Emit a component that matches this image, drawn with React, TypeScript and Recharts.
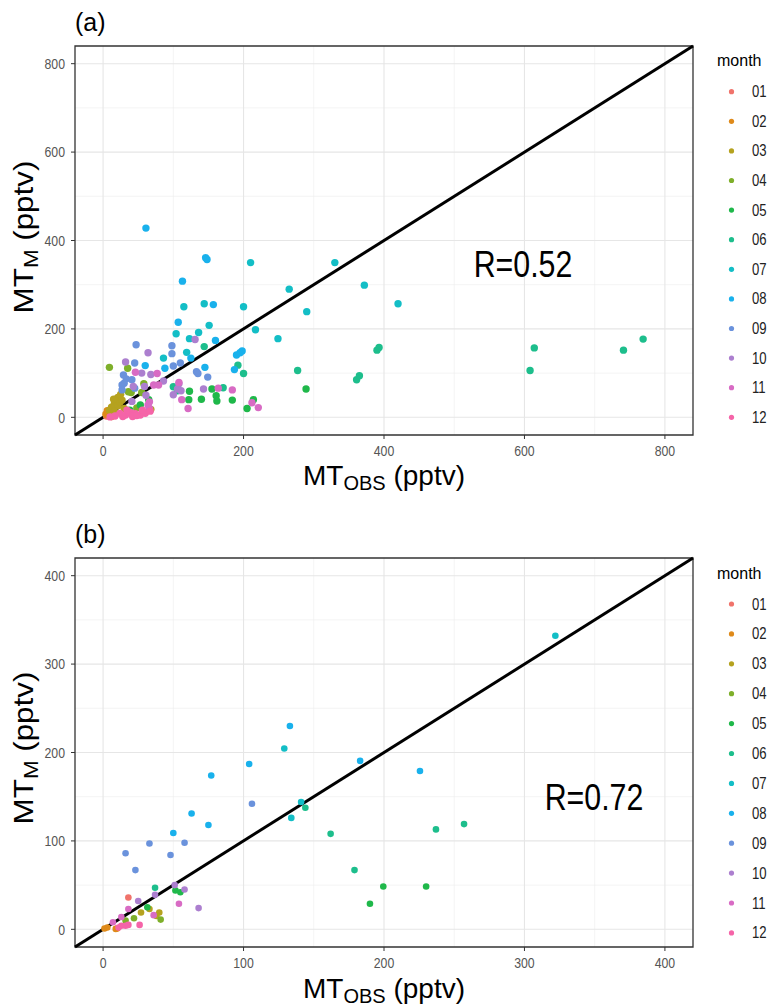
import React from 'react';
import {
  ScatterChart, Scatter, XAxis, YAxis, CartesianGrid, ReferenceLine, ReferenceArea,
} from 'recharts';

// month labels and ggplot-like hue colours
const months = ['01', '02', '03', '04', '05', '06', '07', '08', '09', '10', '11', '12'];
const monthColors = [
  '#F0736B', '#DF8A1A', '#B5A21F', '#7EAF2A', '#1FB84A', '#1DBE8C',
  '#13BEC6', '#19B1EC', '#6A92DC', '#AC7FCF', '#D86BC4', '#F564A8',
];

// panel (a): [MT_OBS, MT_M] per month
const a01 = [[5, 3], [10, 8], [14, 5]];
const a02 = [[6, 15], [4, 7], [12, 2]];
const a03 = [[25, 52], [21, 45], [18, 38], [16, 30], [12, 23], [21, 26], [24, 34], [9, 16], [16, 14], [27, 39], [15, 41], [68, 18], [30, 20]];
const a04 = [[9, 113], [35, 111], [36, 58], [58, 76], [55, 56], [40, 56], [48, 21]];
const a05 = [[38, 16], [53, 28], [65, 40], [123, 59], [155, 64], [161, 49], [162, 37], [184, 39], [140, 41], [122, 40], [205, 20], [214, 40], [289, 64]];
const a06 = [[144, 160], [192, 118], [200, 99], [277, 106], [100, 69], [171, 67], [106, 60], [390, 152], [393, 158], [361, 85], [365, 94], [614, 157], [608, 106], [741, 152], [769, 177]];
const a07 = [[210, 350], [330, 350], [265, 290], [372, 299], [144, 257], [115, 250], [200, 250], [290, 239], [420, 257], [151, 208], [217, 198], [104, 189], [123, 178], [136, 192], [249, 178], [119, 147], [86, 134]];
const a08 = [[61, 428], [146, 361], [148, 357], [113, 308], [157, 255], [107, 215], [160, 174], [125, 134], [198, 150], [195, 146], [190, 141], [60, 117], [88, 111], [187, 108], [145, 113]];
const a09 = [[47, 164], [98, 162], [98, 144], [45, 123], [110, 123], [100, 116], [133, 103], [135, 99], [149, 91], [29, 96], [33, 87], [27, 73], [30, 77], [41, 85], [27, 62], [45, 66]];
const a10 = [[131, 176], [64, 146], [32, 125], [55, 100], [68, 97], [43, 70], [59, 70], [86, 82], [108, 76], [106, 64], [111, 60], [143, 64], [100, 51], [61, 50], [41, 36]];
const a11 = [[46, 102], [77, 99], [79, 73], [108, 79], [164, 66], [184, 62], [112, 40], [121, 20], [212, 33], [221, 22], [66, 35], [64, 28], [66, 20], [72, 73]];
const a12 = [[24, 9], [32, 5], [39, 11], [46, 8], [53, 5], [60, 9], [67, 14], [17, 3], [42, 2], [56, 16], [34, 16], [28, 2], [48, 4], [10, 1]];

// panel (b)
const b01 = [[18, 36]];
const b02 = [[1, 1], [3, 2], [9, 0.5], [10, 1]];
const b03 = [[27, 19], [33, 23], [40, 19], [38, 15]];
const b04 = [[22, 12.5], [16, 10], [41, 11]];
const b05 = [[31.5, 25], [51.5, 44], [55, 42], [190, 29], [199.5, 48.5], [230, 48.5]];
const b06 = [[37, 47], [144, 137.5], [162, 108], [179, 67], [237, 113], [257, 119]];
const b07 = [[322, 332], [141, 144], [134, 126], [129, 204.5]];
const b08 = [[133, 230], [183, 190.5], [225.6, 179], [104, 187], [77, 174], [63, 131], [75, 118], [50, 109]];
const b09 = [[106, 142], [33, 97], [58, 98], [16, 86], [48, 84], [23, 67]];
const b10 = [[51, 50], [58, 45], [37, 39], [25, 32], [68, 24]];
const b11 = [[54, 29], [36, 16], [18, 23], [13, 14], [7, 8]];
const b12 = [[13, 4], [16, 4], [18, 5], [26, 5], [11, 2]];

const seriesA = [a01, a02, a03, a04, a05, a06, a07, a08, a09, a10, a11, a12];
const seriesB = [b01, b02, b03, b04, b05, b06, b07, b08, b09, b10, b11, b12];

const majorA = [0, 200, 400, 600, 800];
const minorA = [100, 300, 500, 700];
const majorB = [0, 100, 200, 300, 400];
const minorB = [50, 150, 250, 350];

const SANS = "'Liberation Sans', Arial, sans-serif";
const SQUEEZE = 0.82; // the figure's text is horizontally condensed

// tick label drawn condensed, like the source
function NarrowTick(props: any) {
  const { x, y, payload, textAnchor, axis } = props;
  const dy = axis === 'x' ? '0.71em' : '0.355em';
  return (
    <text
      transform={`translate(${x},${y}) scale(${SQUEEZE},1)`}
      textAnchor={textAnchor}
      dy={dy}
      fontSize={15}
      fontFamily={SANS}
      fill="#555"
    >
      {payload.value}
    </text>
  );
}

interface PanelProps {
  series: number[][][];
  domain: [number, number];
  major: number[];
  minor: number[];
  height: number;
  margin: { top: number; right: number; bottom: number; left: number };
  r: number;
}

function Panel({ series, domain, major, minor, height, margin, r }: PanelProps) {
  return (
    <ScatterChart width={770} height={height} margin={margin}>
      <CartesianGrid stroke="#EDEDED" strokeWidth={0.6} horizontalValues={minor} verticalValues={minor} />
      <CartesianGrid stroke="#E6E6E6" strokeWidth={1.1} horizontalValues={major} verticalValues={major} />
      <XAxis
        type="number" dataKey="x" domain={domain} ticks={major} allowDataOverflow
        axisLine={false} tickLine={{ stroke: '#333' }} tickSize={4} tickMargin={6}
        tick={(p: any) => <NarrowTick {...p} axis="x" />} height={30}
      />
      <YAxis
        type="number" dataKey="y" domain={domain} ticks={major} allowDataOverflow
        axisLine={false} tickLine={{ stroke: '#333' }} tickSize={4} tickMargin={6}
        tick={(p: any) => <NarrowTick {...p} axis="y" />} width={40}
      />
      {series.map((pts, i) => (
        <Scatter
          key={months[i]}
          name={months[i]}
          data={pts.map(([x, y]) => ({ x, y }))}
          fill={monthColors[i]}
          isAnimationActive={false}
          shape={(p: any) => <circle cx={p.cx} cy={p.cy} r={r} fill={monthColors[i]} />}
        />
      ))}
      <ReferenceLine
        segment={[{ x: domain[0], y: domain[0] }, { x: domain[1], y: domain[1] }]}
        stroke="#000" strokeWidth={3}
      />
      <ReferenceArea x1={domain[0]} x2={domain[1]} y1={domain[0]} y2={domain[1]} fill="none" stroke="#333" strokeWidth={1.3} />
    </ScatterChart>
  );
}

function Legend({ titleY, firstY, step }: { titleY: number; firstY: number; step: number }) {
  return (
    <g>
      <text x={717} y={titleY} fontSize={16} fontFamily={SANS} fill="#000">month</text>
      {months.map((m, i) => (
        <g key={m}>
          <circle cx={731.5} cy={firstY + i * step} r={2.6} fill={monthColors[i]} />
          <text
            transform={`translate(752,${firstY + i * step + 5.5}) scale(${SQUEEZE},1)`}
            fontSize={16} fontFamily={SANS} fill="#222"
          >
            {m}
          </text>
        </g>
      ))}
    </g>
  );
}

function XTitle({ y }: { y: number }) {
  return (
    <text x={384} y={y} textAnchor="middle" fontSize={28} fontFamily={SANS} fill="#000">
      MT<tspan fontSize={20} dy={5}>OBS</tspan><tspan dy={-5}> (pptv)</tspan>
    </text>
  );
}

function YTitle({ cy }: { cy: number }) {
  return (
    <text transform={`translate(33,${cy}) rotate(-90) scale(1.12,1)`} textAnchor="middle" fontSize={28} fontFamily={SANS} fill="#000">
      MT<tspan fontSize={20} dy={5}>M</tspan><tspan dy={-5}> (pptv)</tspan>
    </text>
  );
}

function RLabel({ x, y, text }: { x: number; y: number; text: string }) {
  return (
    <text transform={`translate(${x},${y}) scale(${SQUEEZE},1)`} textAnchor="middle" fontSize={37} fontFamily={SANS} fill="#000">
      {text}
    </text>
  );
}

export default function App() {
  return (
    <div style={{ position: 'absolute', left: 0, top: 0, width: 770, height: 1008, background: '#fff' }}>
      <div style={{ position: 'absolute', left: 0, top: 0 }}>
        <Panel series={seriesA} domain={[-40, 840]} major={majorA} minor={minorA} height={490}
          margin={{ top: 46, right: 77, bottom: 25, left: 35 }} r={3.7} />
      </div>
      <div style={{ position: 'absolute', left: 0, top: 490 }}>
        <Panel series={seriesB} domain={[-20, 420]} major={majorB} minor={minorB} height={518}
          margin={{ top: 68, right: 77, bottom: 31, left: 35 }} r={3.3} />
      </div>
      <svg width={770} height={1008} style={{ position: 'absolute', left: 0, top: 0, pointerEvents: 'none' }}>
        <text x={75} y={31} fontSize={25} fontFamily={SANS} fill="#000">(a)</text>
        <text x={75} y={543} fontSize={25} fontFamily={SANS} fill="#000">(b)</text>
        <XTitle y={485} />
        <XTitle y={998} />
        <YTitle cy={237} />
        <YTitle cy={748} />
        <RLabel x={523} y={277} text="R=0.52" />
        <RLabel x={594} y={810} text="R=0.72" />
        <Legend titleY={66} firstY={91.7} step={29.6} />
        <Legend titleY={579} firstY={604} step={29.9} />
      </svg>
    </div>
  );
}
